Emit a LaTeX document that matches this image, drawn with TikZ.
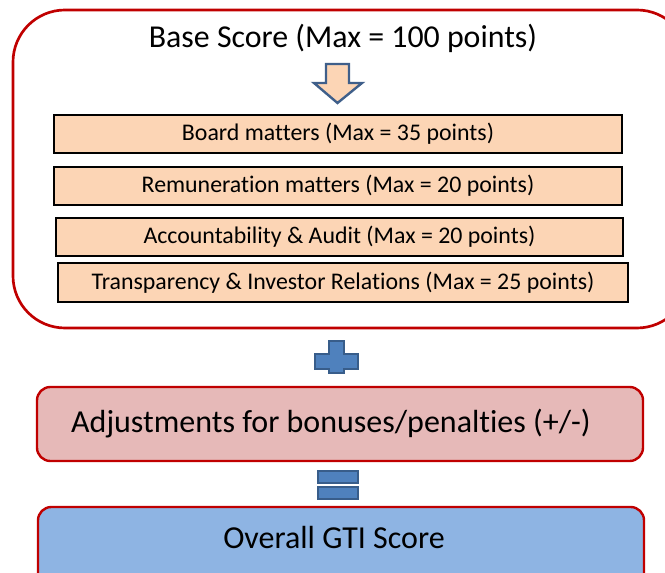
\documentclass[tikz,border=0pt]{standalone}
\usepackage{fontspec}
\setmainfont{Carlito}[Ligatures=NoCommon]
\definecolor{bred}{HTML}{C00000}
\definecolor{peach}{HTML}{FCD5B5}
\definecolor{pinkf}{HTML}{E6B9B8}
\definecolor{bluef}{HTML}{8EB4E3}
\definecolor{symf}{HTML}{4F81BD}
\definecolor{symd}{HTML}{385D8A}
\definecolor{arrd}{HTML}{3F5F8A}
\tikzset{
  subbox/.style={draw=black, line width=1.5pt, fill=peach, inner sep=0pt,
    font=\fontsize{17.9}{21}\selectfont},
  bigtext/.style={font=\fontsize{23.9}{28}\selectfont, inner sep=0pt},
  resbox/.style={draw=bred, line width=1.8pt, rounded corners=10pt, inner sep=0pt,
    font=\fontsize{24}{28}\selectfont},
  sym/.style={draw=symd, line width=2pt, fill=symf},
}
\begin{document}
\begin{tikzpicture}[x=0.75pt,y=-0.75pt]
\useasboundingbox (0,0) rectangle (665,573);
\clip (0,0) rectangle (665,573);
% big rounded frame
\draw[bred, line width=2pt, rounded corners=39pt] (13,10) rectangle (689,328);
\node[bigtext] (base) at (343,38) {Base Score (Max = 100 points)};
% down arrow
\draw[draw=arrd, line width=1.8pt, fill=peach, line join=miter]
  (326,64) -- (349,64) -- (349,83) -- (362,83) -- (337.5,103) -- (314,83) -- (326,83) -- cycle;
% sub boxes
\node[subbox, minimum width={568*0.75pt}, minimum height={38*0.75pt}] (b1) at (338,134) {Board matters (Max = 35 points)};
\node[subbox, minimum width={568*0.75pt}, minimum height={38*0.75pt}] (b2) at (338,186) {Remuneration matters (Max = 20 points)};
\node[subbox, minimum width={567*0.75pt}, minimum height={38*0.75pt}] (b3) at (339.5,237) {Accountability \& Audit (Max = 20 points)};
\node[subbox, minimum width={570*0.75pt}, minimum height={39*0.75pt}] (b4) at (343,283) {Transparency \& Investor Relations (Max = 25 points)};
% plus
\draw[sym] (329,341) -- (344,341) -- (344,354) -- (358,354) -- (358,369) -- (344,369) -- (344,373) -- (329,373) -- (329,369) -- (315,369) -- (315,354) -- (329,354) -- cycle;
% adjustments
\node[resbox, fill=pinkf, minimum width={606*0.75pt}, minimum height={74*0.75pt}] (adj) at (340,424) {Adjustments for bonuses/penalties (+/-)\hspace*{13.5pt}};
% equals
\draw[sym] (318,471) rectangle (358,483);
\draw[sym] (318,487) rectangle (358,499);
% GTI
\draw[bred, line width=1.8pt, fill=bluef, rounded corners=10pt] (38,507) rectangle (644,600);
\node[resbox, draw=none, fill=none, rounded corners=0pt] (gti) at (334,538) {Overall GTI Score};
\end{tikzpicture}
\end{document}
